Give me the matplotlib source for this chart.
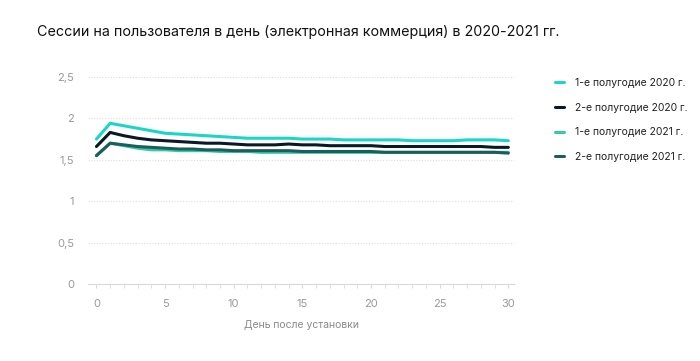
import numpy as np
import matplotlib.pyplot as plt
from matplotlib.ticker import FuncFormatter, MultipleLocator

plt.rcParams['font.family'] = ['Inter', 'DejaVu Sans']

# данные
days = list(range(31))
h1_2020 = [1.75, 1.94, 1.91, 1.88, 1.85, 1.82, 1.81, 1.80, 1.79, 1.78, 1.77, 1.76, 1.76, 1.76, 1.76, 1.75,
           1.75, 1.75, 1.74, 1.74, 1.74, 1.74, 1.74, 1.73, 1.73, 1.73, 1.73, 1.74, 1.74, 1.74, 1.73]
h2_2020 = [1.66, 1.83, 1.79, 1.76, 1.74, 1.73, 1.72, 1.71, 1.70, 1.70, 1.69, 1.68, 1.68, 1.68, 1.69, 1.68,
           1.68, 1.67, 1.67, 1.67, 1.67, 1.66, 1.66, 1.66, 1.66, 1.66, 1.66, 1.66, 1.66, 1.65, 1.65]
h1_2021 = [1.55, 1.70, 1.67, 1.64, 1.62, 1.62, 1.61, 1.61, 1.61, 1.60, 1.60, 1.60, 1.59, 1.59, 1.59, 1.59,
           1.59, 1.59, 1.59, 1.59, 1.59, 1.59, 1.59, 1.59, 1.59, 1.59, 1.59, 1.59, 1.59, 1.59, 1.59]
h2_2021 = [1.55, 1.70, 1.68, 1.66, 1.65, 1.64, 1.63, 1.63, 1.62, 1.62, 1.61, 1.61, 1.61, 1.61, 1.61, 1.60,
           1.60, 1.60, 1.60, 1.60, 1.60, 1.59, 1.59, 1.59, 1.59, 1.59, 1.59, 1.59, 1.59, 1.59, 1.58]

series = [
    ('1-е полугодие 2020 г.', h1_2020, '#19d6c6'),
    ('2-е полугодие 2020 г.', h2_2020, '#0b1826'),
    ('1-е полугодие 2021 г.', h1_2021, '#35c9a6'),
    ('2-е полугодие 2021 г.', h2_2021, '#1c5e5b'),
]

fig = plt.figure(figsize=(7, 3.61), dpi=100)
ax = fig.add_axes([0.126, 0.213, 0.608, 0.574])

for name, vals, col in series:
    ax.plot(days, vals, color=col, lw=2.2, label=name, solid_capstyle='round')

ax.set_xlim(-0.6, 30.4)
ax.set_ylim(0, 2.5)
ax.xaxis.set_major_locator(MultipleLocator(5))
ax.xaxis.set_minor_locator(MultipleLocator(1))
ax.yaxis.set_major_locator(MultipleLocator(0.5))
ax.yaxis.set_major_formatter(FuncFormatter(lambda v, p: ('%g' % v).replace('.', ',')))

for s in ['top', 'right', 'left']:
    ax.spines[s].set_visible(False)
ax.spines['bottom'].set_color('#d9d9d9')
ax.grid(axis='y', color='#dddddd', lw=0.8, ls=(0, (1, 1.5)))
ax.tick_params(axis='x', which='both', length=3, color='#d9d9d9', labelcolor='#999999', labelsize=8, pad=8)
ax.tick_params(axis='y', length=0, labelcolor='#999999', labelsize=8, pad=10)

ax.set_xlabel('День после установки', color='#8a8a8a', fontsize=7.5, labelpad=8)

fig.text(0.053, 0.912, 'Сессии на пользователя в день (электронная коммерция) в 2020-2021 гг.',
         fontsize=10.3, color='#111111', va='center')

ax.legend(loc='upper left', bbox_to_anchor=(1.075, 1.04), frameon=False, fontsize=7.5,
          handlelength=0.9, handletextpad=1.0, labelspacing=1.4, labelcolor='#222222')

fig.savefig('out.png', dpi=100)
